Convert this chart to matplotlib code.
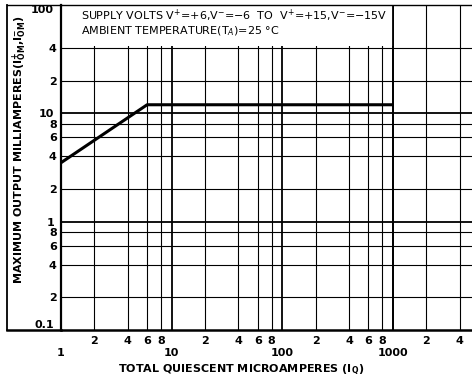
import matplotlib
matplotlib.use('Agg')
import matplotlib.pyplot as plt
from matplotlib.lines import Line2D
from matplotlib.patches import Rectangle

# data
iq = [1, 6, 1000]
iom = [3.5, 12, 12]

x_major = [1, 10, 100, 1000]
x_major_labels = ['1', '10', '100', '1000']
x_minor = [2, 4, 6, 8, 20, 40, 60, 80, 200, 400, 600, 800, 2000, 4000]
x_minor_labels = ['2', '4', '6', '8', '2', '4', '6', '8', '2', '4', '6', '8', '2', '4']
y_major = [0.1, 1, 10, 100]
y_major_labels = ['0.1', '1', '10', '100']
y_minor = [0.2, 0.4, 0.6, 0.8, 2, 4, 6, 8, 20, 40]
y_minor_labels = ['2', '4', '6', '8', '2', '4', '6', '8', '2', '4']

W, H = 472, 378
plt.rcParams['font.family'] = ['DejaVu Sans']
plt.rcParams['mathtext.fontset'] = 'dejavusans'
fig = plt.figure(figsize=(W / 100, H / 100), dpi=100)

left, right, top, bottom = 61, 472, 5, 330
ax = fig.add_axes([left / W, 1 - bottom / H, (right - left) / W, (bottom - top) / H])
ax.set_xscale('log')
ax.set_yscale('log')
ax.set_xlim(1, 10 ** ((right - left) / 110.67))
ax.set_ylim(0.1, 100)

# grid
for v in x_minor:
    ax.axvline(v, color='black', lw=0.8, zorder=1)
for v in x_major[1:]:
    ax.axvline(v, color='black', lw=1.3, zorder=1)
for v in y_minor:
    ax.axhline(v, color='black', lw=0.8, zorder=1)
for v in y_major[1:]:
    ax.axhline(v, color='black', lw=1.3, zorder=1)

# white text box
ax.add_patch(Rectangle((1, 42), 999, 58, facecolor='white', edgecolor='none', zorder=2))
ax.axvline(1000, color='black', lw=1.3, zorder=3)

ax.plot(iq, iom, color='black', lw=2.2, zorder=4, solid_capstyle='butt')

ax.set_xticks(x_major)
ax.set_xticklabels(x_major_labels)
ax.set_xticks(x_minor, minor=True)
ax.set_xticklabels(x_minor_labels, minor=True)
ax.set_yticks(y_major)
ax.set_yticklabels(y_major_labels)
ax.set_yticks(y_minor, minor=True)
ax.set_yticklabels(y_minor_labels, minor=True)
ax.tick_params(axis='x', which='major', length=0, pad=13, labelsize=8)
ax.tick_params(axis='x', which='minor', length=0, pad=4, labelsize=8)
ax.tick_params(axis='y', which='major', length=0, pad=5, labelsize=8)
ax.tick_params(axis='y', which='minor', length=0, pad=3, labelsize=8)
for lab in ax.get_xticklabels(which='both') + ax.get_yticklabels(which='both'):
    lab.set_fontweight('bold')
ylabs = ax.get_yticklabels()
ylabs[0].set_va('bottom')
ylabs[-1].set_va('top')

ax.spines['right'].set_visible(False)
ax.spines['left'].set_linewidth(1.6)
ax.spines['bottom'].set_linewidth(1.8)
ax.spines['top'].set_linewidth(1.0)

# outer frame
fig.add_artist(Line2D([7 / W, 7 / W], [1 - 330 / H, 1 - 5 / H], color='black', lw=1.3, transform=fig.transFigure))
fig.add_artist(Line2D([7 / W, left / W], [1 - 5 / H, 1 - 5 / H], color='black', lw=1.0, transform=fig.transFigure))
fig.add_artist(Line2D([7 / W, left / W], [1 - 330 / H, 1 - 330 / H], color='black', lw=1.8, transform=fig.transFigure))

ax.text(0.048, 0.967, r'SUPPLY VOLTS V$^{+}$=+6,V$^{-}$=$-$6  TO  V$^{+}$=+15,V$^{-}$=$-$15V',
        transform=ax.transAxes, fontsize=8, va='center', ha='left', zorder=5)
ax.text(0.048, 0.92, r'AMBIENT TEMPERATURE(T$_{A}$)=25 °C',
        transform=ax.transAxes, fontsize=8, va='center', ha='left', zorder=5)

fig.text(241 / W, 1 - 370 / H, r'TOTAL QUIESCENT MICROAMPERES (I$_{\mathbf{Q}}$)', ha='center', va='center',
         fontsize=8, fontweight='bold')
fig.text(20 / W, 1 - 150 / H, r'MAXIMUM OUTPUT MILLIAMPERES(I$_{\mathbf{OM}}^{\mathbf{+}}$,I$_{\mathbf{OM}}^{\mathbf{-}}$)',
         ha='center', va='center', rotation=90, fontsize=8, fontweight='bold')

fig.savefig('out.png', dpi=100)
